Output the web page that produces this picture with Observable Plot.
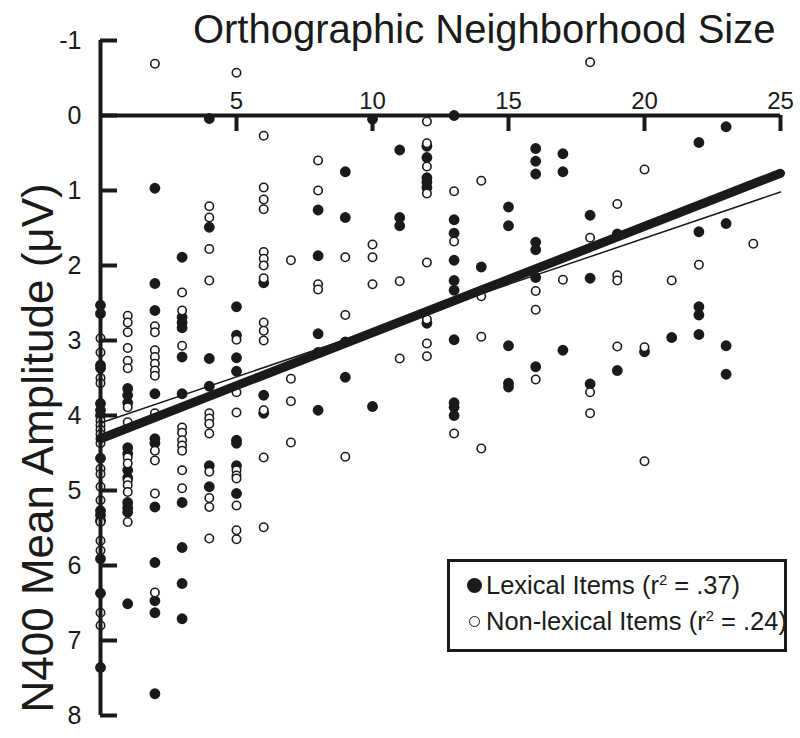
<!DOCTYPE html>
<html>
<head>
<meta charset="utf-8">
<script src="https://cdn.jsdelivr.net/npm/d3@7"></script>
<script src="https://cdn.jsdelivr.net/npm/@observablehq/plot@0.6"></script>
<style>
  html, body { margin: 0; padding: 0; background: #fff; }
  #wrap { position: relative; width: 800px; height: 738px; font-family: "Liberation Sans", Arial, sans-serif; }
  #legend { position: absolute; left: 447px; top: 559px; width: 334px; height: 87px; border: 3px solid #1a1a1a; background: #fff; color: #1a1a1a; font-size: 25.5px; }
  .row { position: absolute; left: 17px; display: flex; align-items: center; white-space: nowrap; }
  .dot { display: inline-block; box-sizing: border-box; border-radius: 50%; margin-right: 4px; }
  sup { font-size: 58%; line-height: 0; }
</style>
</head>
<body>
<div id="wrap"></div>
<script>
// Orthographic neighborhood size (x) and N400 mean amplitude in microvolts (y)
const lexical = [
  [0, [2.53, 2.64, 3.33, 3.37, 3.84, 3.93, 4.0, 4.57, 5.27, 5.33, 5.4, 5.91, 6.37, 7.36]],
  [1, [3.64, 3.73, 3.83, 4.43, 4.51, 4.73, 4.83, 5.16, 5.23, 5.29, 6.51]],
  [2, [0.97, 2.24, 2.6, 3.71, 4.31, 4.37, 5.22, 5.96, 6.47, 6.63, 7.71]],
  [3, [1.89, 2.69, 2.76, 2.83, 3.22, 3.71, 5.16, 5.76, 6.24, 6.71]],
  [4, [0.04, 1.49, 3.24, 3.61, 4.67, 4.95]],
  [5, [2.55, 2.93, 3.23, 3.41, 4.33, 4.37, 4.67, 5.04]],
  [6, [2.23, 3.73, 3.97]],
  [8, [1.26, 1.87, 2.91, 3.16, 3.93]],
  [9, [0.75, 1.36, 3.02, 3.49]],
  [10, [0.05, 3.88]],
  [11, [0.46, 1.36, 1.47]],
  [12, [0.41, 0.56, 0.83, 0.89, 0.96, 2.77]],
  [13, [0.0, 1.39, 1.57, 1.93, 2.2, 2.33, 2.99, 3.83, 3.89, 4.0]],
  [14, [2.02]],
  [15, [1.22, 1.47, 3.07, 3.57, 3.62]],
  [16, [0.44, 0.61, 0.78, 1.69, 1.79, 2.16, 3.35]],
  [17, [0.51, 0.75, 3.13]],
  [18, [1.33, 2.17, 3.58]],
  [19, [1.58, 3.4]],
  [20, [3.15]],
  [21, [2.96]],
  [22, [0.36, 1.55, 2.55, 2.66, 2.92]],
  [23, [0.15, 1.44, 3.07, 3.45]]
];
const nonLexical = [
  [0, [2.97, 3.16, 3.5, 3.57, 4.07, 4.13, 4.19, 4.25, 4.31, 4.37, 4.71, 4.78, 4.95, 5.13, 5.42, 5.67, 5.8, 6.63, 6.8]],
  [1, [2.67, 2.76, 2.89, 3.1, 3.27, 3.37, 3.89, 4.09, 4.56, 4.64, 4.87, 4.93, 5.02, 5.42]],
  [2, [-0.69, 2.81, 2.89, 3.13, 3.22, 3.31, 3.4, 3.47, 3.97, 4.47, 4.6, 5.04, 6.36]],
  [3, [2.36, 2.6, 3.07, 4.16, 4.23, 4.33, 4.4, 4.47, 4.73, 4.97]],
  [4, [1.21, 1.36, 1.78, 2.2, 3.97, 4.04, 4.11, 4.24, 4.75, 5.1, 5.22, 5.64]],
  [5, [-0.57, 2.99, 3.69, 3.96, 4.73, 4.8, 4.84, 5.2, 5.53, 5.65]],
  [6, [0.27, 0.96, 1.12, 1.25, 1.82, 1.91, 2.0, 2.17, 2.76, 2.87, 3.0, 3.93, 4.56, 5.49]],
  [7, [1.93, 3.51, 3.81, 4.36]],
  [8, [0.6, 1.0, 2.25, 2.32]],
  [9, [1.89, 2.66, 4.55]],
  [10, [1.72, 1.89, 2.25]],
  [11, [2.21, 3.24]],
  [12, [0.08, 0.37, 0.68, 1.04, 1.96, 2.72, 3.04, 3.21]],
  [13, [1.01, 1.68, 4.24]],
  [14, [0.87, 2.41, 2.95, 4.44]],
  [16, [2.34, 2.59, 3.52]],
  [17, [2.19]],
  [18, [-0.71, 1.63, 3.69, 3.97]],
  [19, [1.18, 2.13, 2.2, 3.08]],
  [20, [0.72, 3.09, 4.61]],
  [21, [2.2]],
  [22, [1.99]],
  [24, [1.71]]
];
// Regression line end points
const lexicalFitX = [0, 25];
const lexicalFitY = [4.31, 0.77];
const nonLexicalFitX = [0, 25];
const nonLexicalFitY = [4.1, 1.02];

const xTicks = [5, 10, 15, 20, 25];
const yTicks = [-1, 0, 1, 2, 3, 4, 5, 6, 7, 8];
const xLabel = "Orthographic Neighborhood Size";
const yLabel = "N400 Mean Amplitude (\u03bcV)";

const flat = (groups) => groups.flatMap(([n, vals]) => vals.map(v => ({n, v})));
const lexPts = flat(lexical);
const nonPts = flat(nonLexical);
const lexFit = lexicalFitX.map((n, i) => ({n, v: lexicalFitY[i]}));
const nonFit = nonLexicalFitX.map((n, i) => ({n, v: nonLexicalFitY[i]}));

const ink = "#1a1a1a";
const chart = Plot.plot({
  width: 800,
  height: 738,
  marginLeft: 100,
  marginRight: 20,
  marginTop: 40,
  marginBottom: 23,
  x: {domain: [0, 25], axis: null},
  y: {domain: [-1, 8], reverse: true, axis: null},
  style: {fontFamily: "'Liberation Sans', Arial, sans-serif", background: "white", color: ink},
  marks: [
    Plot.dot(lexPts, {x: "n", y: "v", r: 5.4, fill: ink, stroke: "none"}),
    Plot.dot(nonPts, {x: "n", y: "v", r: 4.2, fill: "white", stroke: ink, strokeWidth: 1.6}),
    Plot.line(nonFit, {x: "n", y: "v", stroke: ink, strokeWidth: 1.5}),
    Plot.line(lexFit, {x: "n", y: "v", stroke: ink, strokeWidth: 9}),
    Plot.ruleX([0], {y1: -1, y2: 8, stroke: ink, strokeWidth: 4}),
    Plot.ruleY([0], {x1: 0, x2: 25, stroke: ink, strokeWidth: 4}),
    Plot.tickY(yTicks, {y: d => d, stroke: ink, strokeWidth: 4, insetRight: 663}),
    Plot.tickX(xTicks, {x: d => d, stroke: ink, strokeWidth: 4, insetTop: 75, insetBottom: 584}),
    Plot.text(yTicks, {x: 0, y: d => d, text: d => String(d), textAnchor: "end", dx: -19, fontSize: 25, fill: ink}),
    Plot.text(xTicks, {x: d => d, y: 0, text: d => String(d), lineAnchor: "bottom", dy: -7, fontSize: 24, fill: ink}),
    Plot.text([xLabel], {frameAnchor: "top-right", textAnchor: "end", lineAnchor: "bottom", dx: -5, dy: 2, fontSize: 40, fill: ink}),
    Plot.text([yLabel], {frameAnchor: "bottom-left", rotate: -90, textAnchor: "start", lineAnchor: "middle", dx: -62, dy: -3, fontSize: 44, fill: ink})
  ]
});
const wrap = document.getElementById("wrap");
wrap.appendChild(chart);

const legend = document.createElement("div");
legend.id = "legend";
legend.innerHTML = `
  <div class="row" style="top:9px"><span class="dot" style="width:15px;height:15px;background:${ink}"></span><span>Lexical Items (r<sup>2</sup> = .37)</span></div>
  <div class="row" style="top:45px"><span class="dot" style="width:11px;height:11px;border:1.6px solid ${ink};background:#fff;margin-left:2px;margin-right:6px"></span><span>Non-lexical Items (r<sup>2</sup> = .24)</span></div>`;
wrap.appendChild(legend);
</script>
</body>
</html>
